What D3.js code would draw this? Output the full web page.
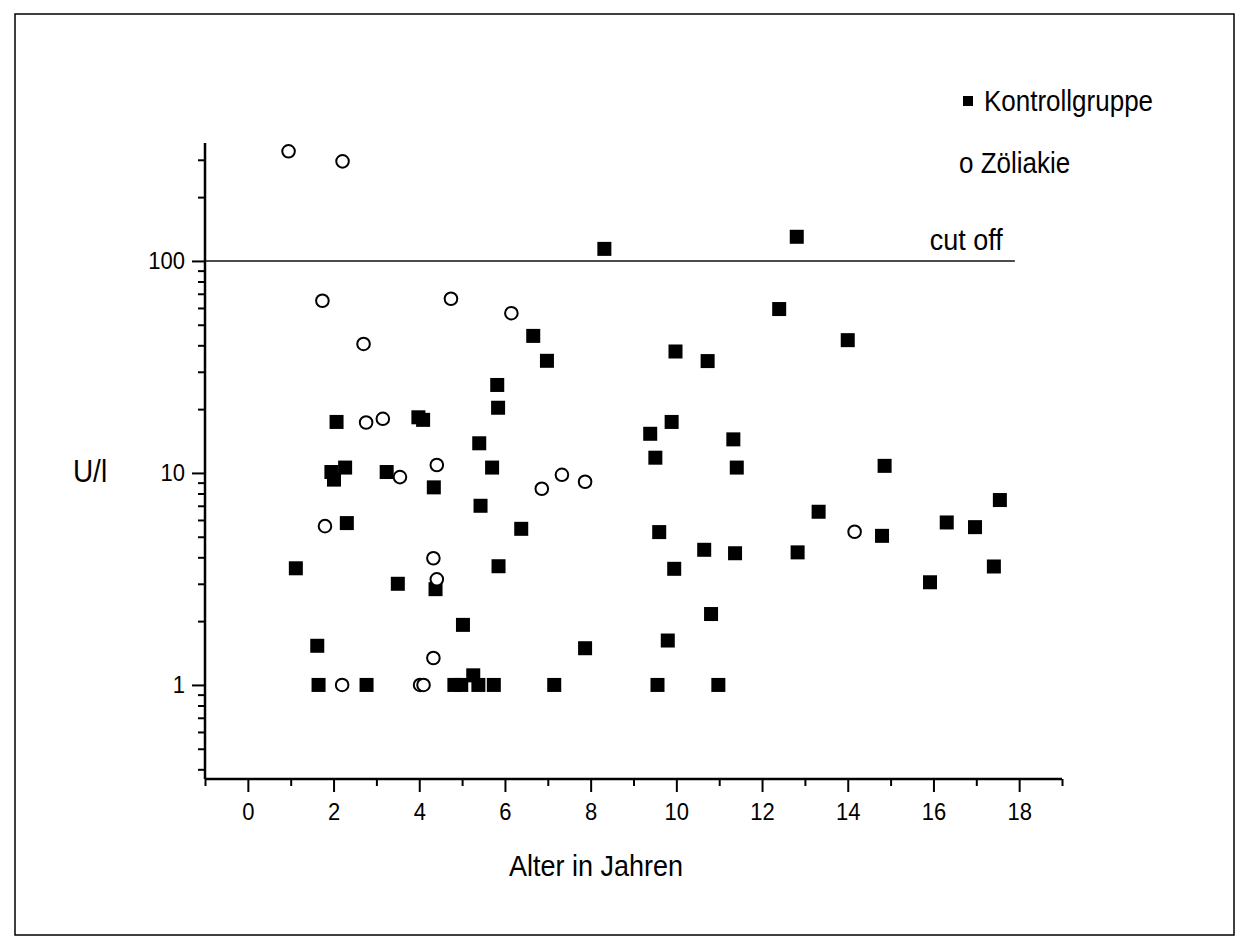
<!DOCTYPE html>
<html>
<head>
<meta charset="utf-8">
<script src="https://cdn.jsdelivr.net/npm/d3@7"></script>
<style>
  body { margin: 0; background: #fff; }
  text { font-family: "Liberation Sans", Arial, sans-serif; fill: #000; }
</style>
</head>
<body>
<div id="vis"></div>
<script>
// Kontrollgruppe (filled squares)
const kontrollAge = [1.12, 1.62, 1.65, 2.07, 1.95, 2.01, 2.27, 2.31, 2.77, 3.24, 3.5, 3.98, 4.09, 4.34, 4.38,
  4.82, 4.98, 5.02, 5.26, 5.38, 5.4, 5.43, 5.7, 5.74, 5.82, 5.84, 5.85, 6.38, 6.66, 6.98, 7.15, 7.87, 8.32,
  9.39, 9.51, 9.56, 9.6, 9.8, 9.89, 9.95, 9.98, 10.65, 10.73, 10.81, 10.98, 11.33, 11.37, 11.41, 12.4, 12.81,
  12.83, 13.32, 14.0, 14.8, 14.86, 15.92, 16.31, 16.97, 17.41, 17.55];
const kontrollUl = [3.55, 1.53, 1.0, 17.4, 10.1, 9.3, 10.6, 5.8, 1.0, 10.1, 3.0, 18.3, 17.8, 8.55, 2.83,
  1.0, 1.0, 1.92, 1.11, 1.0, 13.8, 7.0, 10.6, 1.0, 26.0, 20.3, 3.63, 5.45, 44.3, 33.8, 1.0, 1.49, 114,
  15.3, 11.8, 1.0, 5.26, 1.62, 17.4, 3.53, 37.4, 4.34, 33.7, 2.16, 1.0, 14.4, 4.18, 10.6, 59.3, 130,
  4.22, 6.56, 42.3, 5.05, 10.8, 3.05, 5.84, 5.55, 3.62, 7.45];

// Zöliakie (open circles)
const zoeliakieAge = [0.95, 2.21, 1.74, 4.74, 6.15, 2.7, 2.76, 3.15, 4.41, 3.55, 6.86, 7.33, 7.87, 1.8,
  4.33, 4.41, 4.33, 2.2, 4.02, 4.1, 14.16];
const zoeliakieUl = [329, 295, 64.9, 66.3, 56.7, 40.6, 17.3, 18.0, 10.9, 9.56, 8.42, 9.8, 9.09, 5.61,
  3.96, 3.15, 1.34, 1.0, 1.0, 1.0, 5.28];

// ticks
const xTicks = [0, 2, 4, 6, 8, 10, 12, 14, 16, 18];
const xMinor = [-1, 1, 3, 5, 7, 9, 11, 13, 15, 17, 19];
const yTicks = [1, 10, 100];
const yMinor = [0.4, 0.5, 0.6, 0.7, 0.8, 0.9, 2, 3, 4, 5, 6, 7, 8, 9, 20, 30, 40, 50, 60, 70, 80, 90, 200, 300];
const cutOff = 100;
const cutOffEnd = 17.9;

(function() {
    const width = 1249
    const height = 949

    const svg = d3.select("#vis")
        .append("svg")
        .attr("width", width)
        .attr("height", height)

    // frame round the whole picture
    svg.append("rect")
        .attr("x", 15)
        .attr("y", 14)
        .attr("width", 1219)
        .attr("height", 921)
        .attr("fill", "none")
        .attr("stroke", "#000")
        .attr("stroke-width", 1.5)

    const x = d3.scaleLinear()
        .domain([-1, 19])
        .range([205, 1062])

    const y = d3.scaleLog()
        .domain([0.36, 360])
        .range([779, 143])

    const axisY = 779
    const axisX = 205

    // stretched text, the original lettering is a bit taller than wide
    const tall = "scale(1,1.12)"

    // x axis: major + minor
    const gx = svg.append("g").attr("transform", `translate(0,${axisY})`)
    gx.call(d3.axisBottom(x).tickValues(xTicks).tickSize(13).tickSizeOuter(0).tickPadding(8).tickFormat(d3.format("d")))
    gx.call(g => g.select(".domain").remove())
    gx.selectAll(".tick line").attr("stroke-width", 2)
    gx.selectAll(".tick text").attr("font-size", 22).attr("transform", tall)

    const gxm = svg.append("g").attr("transform", `translate(0,${axisY})`)
    gxm.call(d3.axisBottom(x).tickValues(xMinor).tickSize(7).tickSizeOuter(0).tickFormat(""))
    gxm.call(g => g.select(".domain").remove())
    gxm.selectAll(".tick line").attr("stroke-width", 2)

    // y axis: major + minor
    const gy = svg.append("g").attr("transform", `translate(${axisX},0)`)
    gy.call(d3.axisLeft(y).tickValues(yTicks).tickSize(13).tickSizeOuter(0).tickPadding(7).tickFormat(d3.format("d")))
    gy.call(g => g.select(".domain").remove())
    gy.selectAll(".tick line").attr("stroke-width", 2)
    gy.selectAll(".tick text").attr("font-size", 22).attr("dy", "0.3em").attr("transform", tall)

    const gym = svg.append("g").attr("transform", `translate(${axisX},0)`)
    gym.call(d3.axisLeft(y).tickValues(yMinor).tickSize(7).tickSizeOuter(0).tickFormat(""))
    gym.call(g => g.select(".domain").remove())
    gym.selectAll(".tick line").attr("stroke-width", 2)

    // axis lines
    svg.append("line")
        .attr("x1", x(-1)).attr("x2", x(19))
        .attr("y1", axisY).attr("y2", axisY)
        .attr("stroke", "#000").attr("stroke-width", 2.5)
    svg.append("line")
        .attr("x1", axisX).attr("x2", axisX)
        .attr("y1", y(0.36)).attr("y2", y(360))
        .attr("stroke", "#000").attr("stroke-width", 2.5)

    // cut off line
    svg.append("line")
        .attr("x1", x(-1)).attr("x2", x(cutOffEnd))
        .attr("y1", y(cutOff)).attr("y2", y(cutOff))
        .attr("stroke", "#111").attr("stroke-width", 1.6)

    // helper for the stretched labels
    function label(px, py, size, str, anchor) {
        svg.append("g")
            .attr("transform", `translate(${px},${py}) ${tall}`)
            .append("text")
            .attr("text-anchor", anchor || "start")
            .attr("font-size", size)
            .text(str)
    }

    label(x(cutOffEnd) - 12, y(cutOff) - 11, 27, "cut off", "end")

    // axis titles
    label(90, 482, 28, "U/l", "middle")
    label(596, 876, 27, "Alter in Jahren", "middle")

    // points
    const kontroll = kontrollAge.map((a, i) => ({age: a, ul: kontrollUl[i]}))
    const zoeliakie = zoeliakieAge.map((a, i) => ({age: a, ul: zoeliakieUl[i]}))
    const sq = 14

    svg.selectAll(".kontroll")
        .data(kontroll)
        .join("rect")
        .attr("class", "kontroll")
        .attr("x", d => x(d.age) - sq / 2)
        .attr("y", d => y(d.ul) - sq / 2)
        .attr("width", sq)
        .attr("height", sq)
        .attr("fill", "#000")

    svg.selectAll(".zoeliakie")
        .data(zoeliakie)
        .join("circle")
        .attr("class", "zoeliakie")
        .attr("cx", d => x(d.age))
        .attr("cy", d => y(d.ul))
        .attr("r", 6.3)
        .attr("fill", "#fff")
        .attr("stroke", "#000")
        .attr("stroke-width", 2)

    // legend
    svg.append("rect")
        .attr("x", 963)
        .attr("y", 96)
        .attr("width", 10)
        .attr("height", 10)
        .attr("fill", "#000")
    label(984, 111, 26, "Kontrollgruppe")
    label(959, 173, 26, "o Zöliakie")
})();
</script>
</body>
</html>
